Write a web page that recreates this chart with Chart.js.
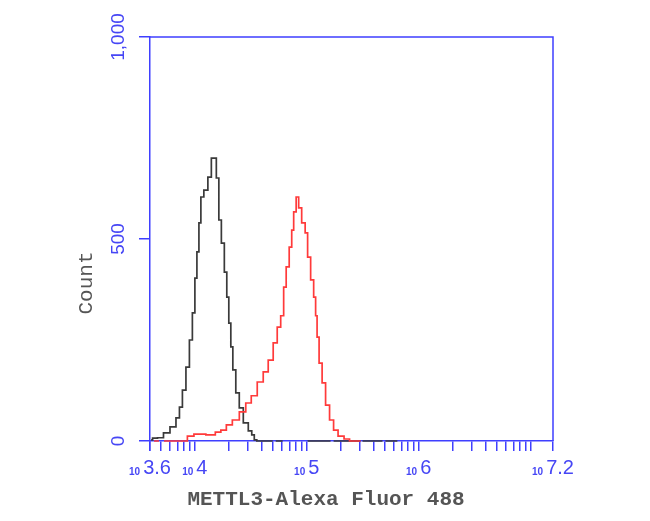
<!DOCTYPE html>
<html>
<head>
<meta charset="utf-8">
<script src="https://cdn.jsdelivr.net/npm/chart.js@4.4.1/dist/chart.umd.min.js"></script>
<style>
  html, body { margin: 0; padding: 0; background: #ffffff; }
  #wrap { width: 650px; height: 521px; }
</style>
</head>
<body>
<div id="wrap"><canvas id="c" width="650" height="521"></canvas></div>
<script>
// ---- data (x as log10 of fluorescence intensity, y as event count) ----
const blackExp   = [3.610, 3.636, 3.698, 3.743, 3.814, 3.850, 3.876, 3.903, 3.939, 3.965, 3.992, 4.010, 4.028, 4.046, 4.063, 4.099, 4.135, 4.161, 4.179, 4.206, 4.224, 4.251, 4.277, 4.295, 4.313, 4.331, 4.349, 4.384, 4.411, 4.456, 4.500, 4.518, 4.545,
                    4.563, 4.696, 4.710, 4.723, 4.785, 4.900, 5.008, 5.213, 5.228, 5.240, 5.481, 5.490, 5.498, 5.677, 5.690, 5.703, 5.810];
const blackCount = [3, 7, 8, 20, 35, 57, 84, 126, 183, 250, 317, 403, 468, 540, 604, 621, 653, 700, 700, 651, 547, 490, 418, 356, 292, 233, 176, 119, 82, 45, 25, 15, 3,
                    0, 0, null, 0, 0, null, 0, 0, null, 0, 0, null, 0, 0, null, 0, 0];
const redExp     = [3.636, 3.680, 3.700, 3.725, 3.920, 3.948, 4.037, 4.161, 4.206, 4.260, 4.304, 4.367, 4.429, 4.482, 4.527, 4.589, 4.634, 4.678, 4.723, 4.750, 4.785, 4.803, 4.830, 4.857, 4.875, 4.892, 4.919, 4.937, 4.973, 4.999, 5.017, 5.053, 5.071, 5.088, 5.097, 5.124, 5.151, 5.186, 5.222, 5.258, 5.302, 5.365, 5.400, 5.481];
const redCount   = [0, 0, null, 0, 0, 12, 17, 15, 22, 27, 40, 52, 72, 94, 112, 146, 171, 200, 243, 282, 310, 381, 431, 480, 522, 567, 604, 577, 540, 515, 455, 399, 356, 310, 257, 193, 144, 89, 52, 27, 12, 5, 0, 0];

// ---- axis tick definitions ----
const xMajorExp    = [3.6, 4, 5, 6, 7.2];
const xMajorLabels = ['3.6', '4', '5', '6', '7.2'];
const xMinorMult   = [1, 2, 3, 4, 5, 6, 7, 8, 9];
const xDecades     = [3, 4, 5, 6, 7];
const yTickValues  = [0, 500, 1000];
const yTickLabels  = ['0', '500', '1,000'];
const xTitle = 'METTL3-Alexa Fluor 488';
const yTitle = 'Count';

const BLUE = '#3f3fff';
const BLUE_TEXT = '#4646f5';

function toPoints(xs, ys) { return xs.map((x, i) => ({ x: x, y: ys[i] })); }

const xTickValues = [3.6, 7.2];
xDecades.forEach(d => xMinorMult.forEach(m => {
  const v = Math.log10(m * Math.pow(10, d));
  if (v >= 3.6 && v <= 7.2) xTickValues.push(v);
}));

const textPlugin = {
  id: 'texts',
  beforeDatasetsDraw(chart) {
    const { ctx, chartArea: a } = chart;
    ctx.save();
    ctx.strokeStyle = BLUE;
    ctx.lineWidth = 1.5;
    ctx.beginPath();
    ctx.moveTo(a.left, a.top); ctx.lineTo(a.right, a.top); ctx.lineTo(a.right, a.bottom);
    ctx.stroke();
    ctx.restore();
  },
  afterDraw(chart) {
    const { ctx, chartArea: a, scales } = chart;
    ctx.save();
    // x tick labels: small "10" followed by exponent
    xMajorExp.forEach((e, i) => {
      const px = scales.x.getPixelForValue(e);
      const expText = xMajorLabels[i];
      ctx.font = 'bold 10px "Liberation Sans"';
      const w10 = ctx.measureText('10').width;
      ctx.font = '20px "Liberation Sans"';
      const wE = ctx.measureText(expText).width;
      const gap = 3;
      const total = w10 + gap + wE;
      const x0 = px - total / 2;
      ctx.fillStyle = BLUE_TEXT;
      ctx.textBaseline = 'alphabetic';
      ctx.textAlign = 'left';
      ctx.font = 'bold 10px "Liberation Sans"';
      ctx.fillText('10', x0, a.bottom + 34);
      ctx.font = '20px "Liberation Sans"';
      ctx.fillText(expText, x0 + w10 + gap, a.bottom + 33);
    });
    // y tick labels rotated
    yTickValues.forEach((v, i) => {
      const py = scales.y.getPixelForValue(v);
      ctx.save();
      ctx.translate(a.left - 31, py);
      ctx.rotate(-Math.PI / 2);
      ctx.font = '19px "Liberation Sans"';
      ctx.fillStyle = BLUE_TEXT;
      ctx.textAlign = 'center';
      ctx.textBaseline = 'middle';
      ctx.fillText(yTickLabels[i], 0, 0);
      ctx.restore();
    });
    // axis titles
    ctx.fillStyle = '#555555';
    ctx.font = 'bold 21px "Liberation Mono"';
    ctx.textAlign = 'center';
    ctx.textBaseline = 'middle';
    ctx.fillText(xTitle, 326, a.bottom + 59);
    ctx.save();
    ctx.translate(86, 283);
    ctx.rotate(-Math.PI / 2);
    ctx.font = '21px "Liberation Mono"';
    ctx.fillText(yTitle, 0, 0);
    ctx.restore();
    ctx.restore();
  }
};

new Chart(document.getElementById('c'), {
  type: 'line',
  data: {
    datasets: [
      {
        label: 'METTL3',
        data: toPoints(redExp, redCount),
        borderColor: '#ff3a3a',
        borderWidth: 1.7,
        pointRadius: 0,
        stepped: 'middle',
        spanGaps: false,
        fill: false,
        clip: 6
      },
      {
        label: 'Control',
        data: toPoints(blackExp, blackCount),
        borderColor: '#3a3a3a',
        borderWidth: 1.7,
        pointRadius: 0,
        stepped: 'middle',
        spanGaps: false,
        fill: false,
        clip: 6
      }
    ]
  },
  options: {
    responsive: false,
    animation: false,
    devicePixelRatio: 1,
    layout: { padding: { left: 139, right: 97, top: 37, bottom: 70 } },
    plugins: { legend: { display: false }, tooltip: { enabled: false } },
    scales: {
      x: {
        type: 'linear',
        min: 3.6,
        max: 7.2,
        afterBuildTicks: (scale) => { scale.ticks = xTickValues.map(v => ({ value: v })); },
        ticks: { display: false },
        grid: { display: true, drawOnChartArea: false, drawTicks: true, tickLength: 10, color: BLUE, lineWidth: 1.5 },
        border: { display: true, color: BLUE, width: 1.5 }
      },
      y: {
        type: 'linear',
        min: 0,
        max: 1000,
        afterBuildTicks: (scale) => { scale.ticks = yTickValues.map(v => ({ value: v })); },
        ticks: { display: false },
        grid: { display: true, drawOnChartArea: false, drawTicks: true, tickLength: 11, color: BLUE, lineWidth: 1.5 },
        border: { display: true, color: BLUE, width: 1.5 }
      }
    }
  },
  plugins: [textPlugin]
});
</script>
</body>
</html>
